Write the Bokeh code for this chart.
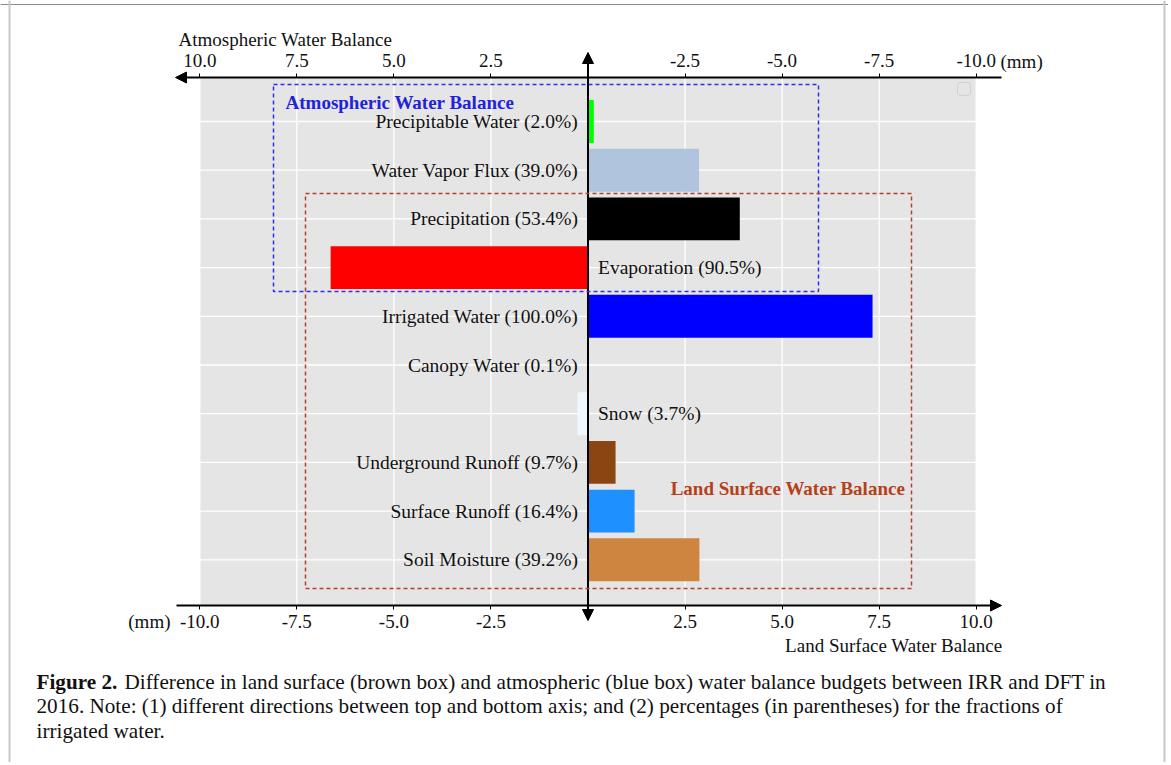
from bokeh.plotting import figure
from bokeh.models import (Range1d, LinearAxis, FixedTicker, Arrow, NormalHead,
                          BoxAnnotation, Label, ColumnDataSource, NumeralTickFormatter, Span)
from bokeh.core.properties import value
from bokeh.embed import file_html
from bokeh.resources import INLINE

# ---------------- data ----------------
names = ["Precipitable Water", "Water Vapor Flux", "Precipitation", "Evaporation",
         "Irrigated Water", "Canopy Water", "Snow", "Underground Runoff",
         "Surface Runoff", "Soil Moisture"]
pct = ["2.0%", "39.0%", "53.4%", "90.5%", "100.0%", "0.1%", "3.7%", "9.7%", "16.4%", "39.2%"]
values = [0.15, 2.86, 3.91, -6.63, 7.33, 0.01, -0.27, 0.71, 1.20, 2.87]
colors = ["#00FF00", "#B0C4DE", "#000000", "#FF0000", "#0000FF", "#D3D3D3",
          "#F0F8FF", "#8B4513", "#1E90FF", "#CD853F"]
bottom_ticks = [-10.0, -7.5, -5.0, -2.5, 2.5, 5.0, 7.5, 10.0]
top_ticks = [10.0, 7.5, 5.0, 2.5, -2.5, -5.0, -7.5, -10.0]
grid_ticks = [-10.0, -7.5, -5.0, -2.5, 0.0, 2.5, 5.0, 7.5, 10.0]

FONT = "Liberation Serif"
W, H = 1168, 762

# layout constants: page pixel <-> data
X0, XS = 587.5, 38.82      # x=0 at 587.5 px, 38.82 px per unit
Y0, YS = 559.3, 48.7       # y=0 (last row) at 559.3 px, 48.7 px per row

def dx(px):
    return (px - X0) / XS

def dy(py):
    return (Y0 - py) / YS

Y_TOP, Y_BOT = dy(77), dy(605)    # edges of the grey panel

n = len(names)
ypos = [n - 1 - i for i in range(n)]
labels = [f"{a} ({b})" for a, b in zip(names, pct)]
pos = [v >= 0 for v in values]

src_pos = ColumnDataSource(dict(
    y=[y for y, p in zip(ypos, pos) if p],
    t=[t for t, p in zip(labels, pos) if p]))
src_neg = ColumnDataSource(dict(
    y=[y for y, p in zip(ypos, pos) if not p],
    t=[t for t, p in zip(labels, pos) if not p]))
bars = ColumnDataSource(dict(y=ypos, right=values, left=[0] * n, color=colors))

p = figure(width=W, height=H, output_backend="svg", toolbar_location=None,
           x_range=Range1d(dx(0), dx(W)), y_range=Range1d(dy(H), dy(0)),
           x_axis_location=None, y_axis_location=None,
           min_border=0)
p.background_fill_color = "white"
p.border_fill_color = "white"
p.outline_line_color = None
p.grid.visible = False

# grey panel
p.add_layout(BoxAnnotation(left=-10, right=10, bottom=Y_BOT, top=Y_TOP,
                           fill_color="#E5E5E5", fill_alpha=1, line_color=None,
                           level="underlay"))
# grid lines
p.segment(x0=grid_ticks, x1=grid_ticks, y0=[Y_BOT] * len(grid_ticks), y1=[Y_TOP] * len(grid_ticks),
          line_color="white", line_width=1.3)
p.segment(x0=[-10] * n, x1=[10] * n, y0=ypos, y1=ypos, line_color="white", line_width=1.3)

# axes (real Bokeh axes, pinned to the panel edges)
p.extra_x_ranges = {"top": Range1d(-dx(0), -dx(W))}
ax_b = LinearAxis(ticker=FixedTicker(ticks=bottom_ticks),
                  formatter=NumeralTickFormatter(format="0.0"), fixed_location=Y_BOT)
ax_t = LinearAxis(x_range_name="top", ticker=FixedTicker(ticks=top_ticks),
                  formatter=NumeralTickFormatter(format="0.0"), fixed_location=Y_TOP)
for ax in (ax_b, ax_t):
    ax.axis_line_color = None
    ax.major_tick_in = 0
    ax.major_tick_out = 4
    ax.major_tick_line_color = "black"
    ax.minor_tick_line_color = None
    ax.major_label_text_font = FONT
    ax.major_label_text_font_size = "19px"
    ax.major_label_text_color = "#111111"
ax_b.major_label_standoff = 5
ax_t.major_label_standoff = 7
p.add_layout(ax_b, "below")
p.add_layout(ax_t, "above")

# bars
p.hbar(y="y", left="left", right="right", height=0.88, color="color", source=bars,
       line_color=None)

# bar labels
p.text(x=0, y="y", text="t", source=src_pos, text_align="right", text_baseline="middle",
       x_offset=-10, text_font=value(FONT), text_font_size="19.5px", text_color="#111111")
p.text(x=0, y="y", text="t", source=src_neg, text_align="left", text_baseline="middle",
       x_offset=10, text_font=value(FONT), text_font_size="19.5px", text_color="#111111")

# axis lines with arrow heads
def head():
    return NormalHead(size=11, fill_color="black", line_color="black", line_width=1)

p.add_layout(Arrow(x_start=dx(176), y_start=Y_BOT, x_end=dx(1001), y_end=Y_BOT,
                   end=head(), line_width=2, line_color="black"))
p.add_layout(Arrow(x_start=dx(1001), y_start=Y_TOP, x_end=dx(175), y_end=Y_TOP,
                   end=head(), line_width=2, line_color="black"))
p.add_layout(Arrow(x_start=0, y_start=dy(620), x_end=0, y_end=dy(52),
                   start=head(), end=head(), line_width=2, line_color="black"))

# dashed boxes
p.add_layout(BoxAnnotation(left=dx(273), right=dx(818), bottom=dy(291), top=dy(84),
                           fill_alpha=0, line_color="#2E2EF0", line_alpha=1, line_dash="4 3",
                           line_width=1.5, level="overlay"))
p.add_layout(BoxAnnotation(left=dx(305), right=dx(911), bottom=dy(588), top=dy(193),
                           fill_alpha=0, line_color="#B5412A", line_alpha=1, line_dash="4 3",
                           line_width=1.5, level="overlay"))
# empty legend box
p.add_layout(BoxAnnotation(left=dx(957), right=dx(970), bottom=dy(95), top=dy(82),
                           fill_alpha=0, line_color="#CFCFCF", line_alpha=1, line_width=1,
                           border_radius=3, level="overlay"))

# figure frame lines
p.add_layout(Span(location=dy(4), dimension="width", line_color="#8A8A8A", line_width=1))
p.add_layout(Span(location=dx(9), dimension="height", line_color="#C8C8C8", line_width=2))
p.add_layout(Span(location=dx(1164), dimension="height", line_color="#C8C8C8", line_width=2))

def lab(x, y, text, **kw):
    kw.setdefault("text_font", FONT)
    kw.setdefault("text_font_size", "19px")
    kw.setdefault("text_baseline", "middle")
    kw.setdefault("text_color", "#111111")
    p.add_layout(Label(x=dx(x), y=dy(y), text=text, **kw))

lab(285, 102, "Atmospheric Water Balance", text_font_style="bold", text_color="#2222DD")
lab(905, 488, "Land Surface Water Balance", text_font_style="bold", text_color="#B5411B",
    text_align="right")
lab(178, 39, "Atmospheric Water Balance")
lab(1002, 645, "Land Surface Water Balance", text_align="right")
lab(1000, 61, "(mm)")
lab(170, 621, "(mm)", text_align="right")

cap1 = "Difference in land surface (brown box) and atmospheric (blue box) water balance budgets between IRR and DFT in"
cap2 = "2016. Note: (1) different directions between top and bottom axis; and (2) percentages (in parentheses) for the fractions of"
cap3 = "irrigated water."
CAP = "21.2px"
lab(36, 681, "Figure 2.", text_font_style="bold", text_font_size=CAP)
lab(124, 681, cap1, text_font_size=CAP)
lab(36, 705, cap2, text_font_size=CAP)
lab(36, 730, cap3, text_font_size=CAP)

open("out.html", "w").write(file_html(p, INLINE))
